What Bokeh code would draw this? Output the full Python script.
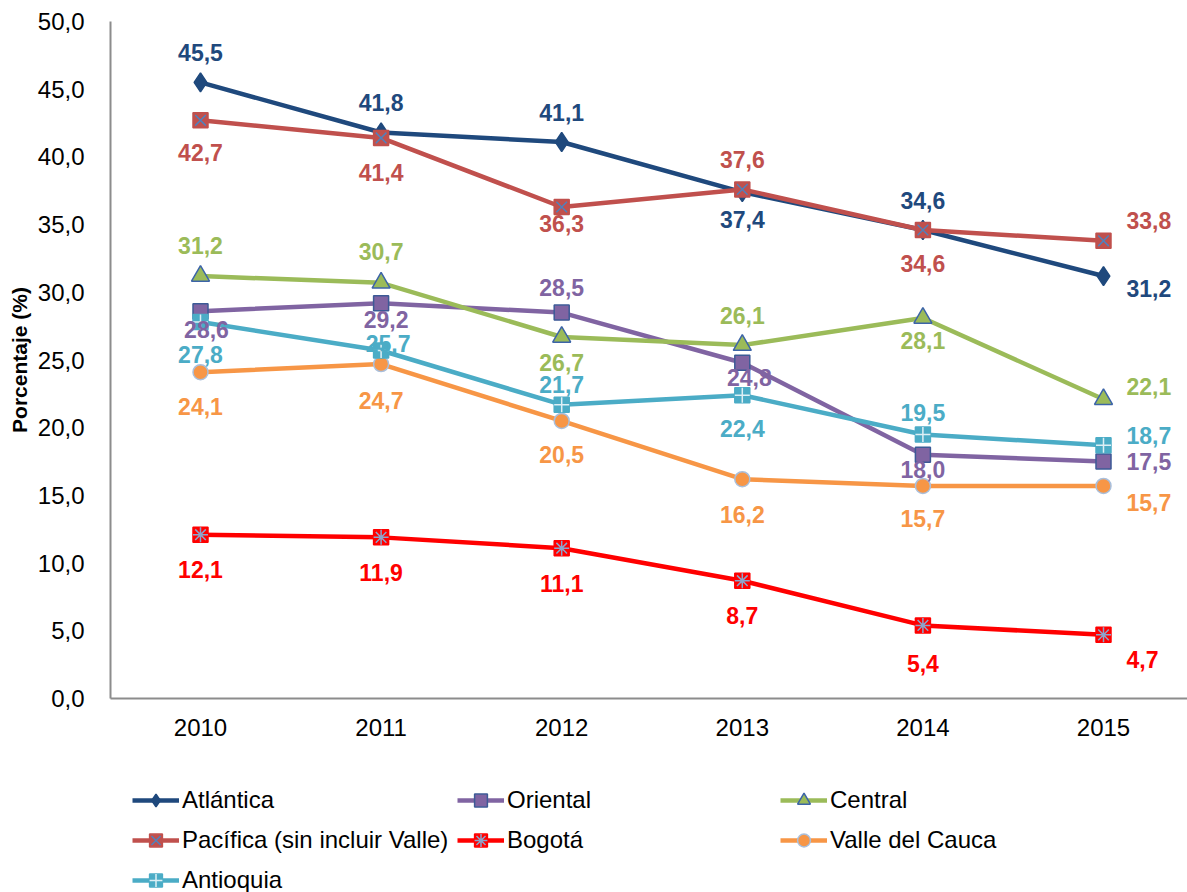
from bokeh.plotting import figure
from bokeh.layouts import column
from bokeh.models import ColumnDataSource, Range1d, FixedTicker, Legend, LegendItem
from bokeh.embed import file_html
from bokeh.resources import INLINE
from bokeh.core.properties import value

# ---------------- data ----------------
years = [2010, 2011, 2012, 2013, 2014, 2015]
atlantica = [45.5, 41.8, 41.1, 37.4, 34.6, 31.2]
oriental = [28.6, 29.2, 28.5, 24.8, 18.0, 17.5]
central = [31.2, 30.7, 26.7, 26.1, 28.1, 22.1]
pacifica = [42.7, 41.4, 36.3, 37.6, 34.6, 33.8]
bogota = [12.1, 11.9, 11.1, 8.7, 5.4, 4.7]
valle = [24.1, 24.7, 20.5, 16.2, 15.7, 15.7]
antioquia = [27.8, 25.7, 21.7, 22.4, 19.5, 18.7]
series_names = ["Atlántica", "Oriental", "Central", "Pacífica (sin incluir Valle)",
                "Bogotá", "Valle del Cauca", "Antioquia"]
series_values = [atlantica, oriental, central, pacifica, bogota, valle, antioquia]
y_ticks = [0, 5, 10, 15, 20, 25, 30, 35, 40, 45, 50]
y_tick_labels = ["0,0", "5,0", "10,0", "15,0", "20,0", "25,0", "30,0", "35,0", "40,0", "45,0", "50,0"]
x_tick_labels = ["2010", "2011", "2012", "2013", "2014", "2015"]

# ---------------- styles ----------------
styles = [
    dict(color="#1F497D", marker="diamond", size=19, mline="#1F497D", over=None, ocol=None,
         dy=[-30, -30, -30, 27, -30, 12], dx=[0, 0, 0, 0, 0, 23]),
    dict(color="#8064A2", marker="square", size=15, mline="#3C5A96", over=None, ocol=None,
         dy=[18, 16, -25, 15, 15, 0], dx=[6, 5, 0, 7, 0, 23]),
    dict(color="#9BBB59", marker="triangle", size=18, mline="#3C64A8", over=None, ocol=None,
         dy=[-31, -31, 26, -30, 22, -13], dx=[0, 0, 0, 0, 0, 23]),
    dict(color="#C0504D", marker="square", size=15, mline="#C0504D", over="x", ocol="#4F81BD",
         dy=[32, 35, 17, -30, 33, -20], dx=[0, 0, 0, 0, 0, 23]),
    dict(color="#FF0000", marker="square", size=15, mline="#FF0000", over="asterisk", ocol="#8CA5CC",
         dy=[35, 35, 35, 35, 38, 25], dx=[0, 0, 0, 0, 0, 23]),
    dict(color="#F79646", marker="circle", size=15, mline="#A9BFDC", over=None, ocol=None,
         dy=[34, 36, 34, 35, 33, 17], dx=[0, 0, 0, 0, 0, 23]),
    dict(color="#4BACC6", marker="square", size=15, mline="#4BACC6", over="cross", ocol="#DDEFF5",
         dy=[32, -7, -20, 33, -22, -10], dx=[0, 7, 0, 0, 0, 23]),
]

FONT = "Liberation Sans"
PX_PER_YEAR = 180.6
x_start = 2010 - 90 / PX_PER_YEAR
W = 1187
H = 750
BL, BT, FRAME_H = 110, 21, 677
x_end = x_start + (W - BL) / PX_PER_YEAR

p = figure(width=W, height=H, x_range=Range1d(x_start, x_end), y_range=Range1d(0, 50),
           output_backend="svg", toolbar_location=None,
           min_border_left=BL, min_border_right=0, min_border_top=BT,
           min_border_bottom=H - BT - FRAME_H)
p.xgrid.visible = False
p.ygrid.visible = False
p.outline_line_color = None

for ax in (p.xaxis[0], p.yaxis[0]):
    ax.axis_line_color = "#8C8C8C"
    ax.axis_line_width = 2
    ax.major_tick_line_color = None
    ax.minor_tick_line_color = None
    ax.major_label_text_font = FONT
    ax.major_label_text_font_size = "24px"
    ax.major_label_text_color = "#000000"

p.xaxis[0].ticker = FixedTicker(ticks=years)
p.xaxis[0].major_label_overrides = {y: l for y, l in zip(years, x_tick_labels)}
p.xaxis[0].major_label_standoff = 14
p.yaxis[0].ticker = FixedTicker(ticks=y_ticks)
p.yaxis[0].major_label_overrides = {t: l for t, l in zip(y_ticks, y_tick_labels)}
p.yaxis[0].major_label_standoff = 20
p.yaxis[0].axis_label = "Porcentaje (%)"
p.yaxis[0].axis_label_text_font = FONT
p.yaxis[0].axis_label_text_font_size = "21px"
p.yaxis[0].axis_label_text_font_style = "bold"
p.yaxis[0].axis_label_text_color = "#000000"
p.yaxis[0].axis_label_standoff = 4

# legend figure (placed below the chart; its frame is aligned with the chart's frame)
LH = 892 - H
lf = figure(width=W, height=LH, x_range=Range1d(0, 1), y_range=Range1d(0, 1),
            output_backend="svg", toolbar_location=None,
            min_border_left=0, min_border_right=0, min_border_top=0, min_border_bottom=0)
lf.axis.visible = False
lf.grid.visible = False
lf.outline_line_color = None

items = []
label_rows = dict(x=[], y=[], text=[], color=[], dx=[], dy=[], align=[])
for name, vals, st in zip(series_names, series_values, styles):
    src = ColumnDataSource(dict(x=years, y=vals))
    p.line("x", "y", source=src, line_color=st["color"], line_width=4.5)
    p.scatter("x", "y", source=src, marker=st["marker"], size=st["size"],
              fill_color=st["color"], line_color=st["mline"], line_width=1.5)
    if st["over"]:
        p.scatter("x", "y", source=src, marker=st["over"], size=st["size"],
                  fill_color=None, line_color=st["ocol"], line_width=1.5)
    # dummy renderers for the legend (outside the visible range)
    dsrc = ColumnDataSource(dict(x=[-10], y=[-10]))
    rends = [lf.line("x", "y", source=dsrc, line_color=st["color"], line_width=4.5),
             lf.scatter("x", "y", source=dsrc, marker=st["marker"], size=st["size"],
                        fill_color=st["color"], line_color=st["mline"], line_width=1.5)]
    if st["over"]:
        rends.append(lf.scatter("x", "y", source=dsrc, marker=st["over"], size=st["size"],
                                fill_color=None, line_color=st["ocol"], line_width=1.5))
    items.append(LegendItem(label=name, renderers=rends))
    for i, (xx, yy) in enumerate(zip(years, vals)):
        label_rows["x"].append(xx)
        label_rows["y"].append(yy)
        label_rows["text"].append(f"{yy:.1f}".replace(".", ","))
        label_rows["color"].append(st["color"])
        label_rows["dx"].append(st["dx"][i])
        label_rows["dy"].append(st["dy"][i])
        label_rows["align"].append("left" if i == len(years) - 1 else "center")

lab_src = ColumnDataSource(label_rows)
p.text("x", "y", text="text", source=lab_src, x_offset="dx", y_offset="dy",
       text_color="color", text_align="align", text_baseline="middle",
       text_font=value(FONT), text_font_size="23px", text_font_style="bold")

columns = [[0, 3, 6], [1, 4], [2, 5]]
col_x = [132 - BL, 457 - BL, 780 - BL]
GH, SP = 32, 8
leg_h = 3 * GH + 2 * SP
row1_center = 800 - H
for cx, idxs in zip(col_x, columns):
    top = row1_center - GH / 2
    bottom_from_frame_bottom = LH - (top + leg_h)
    leg = Legend(items=[items[i] for i in idxs],
                 location=(cx, bottom_from_frame_bottom + (3 - len(idxs)) * (GH + SP)),
                 orientation="vertical",
                 glyph_width=47, glyph_height=GH, label_height=GH, spacing=SP,
                 padding=0, margin=0, label_standoff=3,
                 border_line_color=None, background_fill_alpha=0,
                 label_text_font=FONT, label_text_font_size="24px",
                 label_text_color="#000000", label_text_baseline="middle")
    lf.add_layout(leg)

layout = column(p, lf, spacing=0)
open("out.html", "w").write(file_html(layout, INLINE))
